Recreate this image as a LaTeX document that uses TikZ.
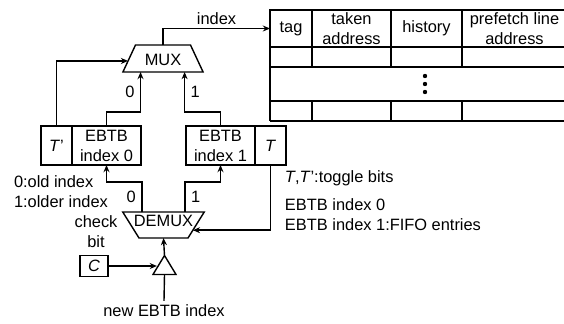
\documentclass[tikz,border=0pt]{standalone}
\usepackage{fontspec}
\setmainfont{Liberation Sans}
\usetikzlibrary{positioning, shapes.geometric, arrows.meta}

\begin{document}
\begin{tikzpicture}[
    x=0.5pt, y=-0.5pt,
    every node/.style={font=\fontsize{8.2}{10}\selectfont, align=center, inner sep=0pt, outer sep=0pt},
    box/.style={rectangle, draw, line width=0.7pt, minimum height=19.5pt},
    head/.style={rectangle, draw, line width=0.7pt, minimum height=18.5pt},
    sel/.style={trapezium, draw, line width=0.7pt},
    grid/.style={line width=0.7pt},
    link/.style={-{Stealth[length=3.6pt, width=3pt]}, line width=0.7pt},
]
\useasboundingbox (0,0) rectangle (564,323);

% Table header
\node[head, minimum width=21pt] (tag) at (291,28.5) {tag};
\node[head, minimum width=39.5pt] (taken) at (351.5,28.5) {taken\\address};
\node[head, minimum width=35.5pt] (history) at (426.5,28.5) {history};
\node[head, minimum width=52.5pt] (prefetch) at (514.5,28.5) {prefetch line\\address};

% Table rows
\draw[grid] (270,47) -- (270,121);
\foreach \y in {67,101,121}
  \draw[grid] (270,\y) -- (570,\y);
\foreach \x in {312,391,462} {
  \draw[grid] (\x,47) -- (\x,67);
  \draw[grid] (\x,101) -- (\x,121);
}
\foreach \y in {76,84,92}
  \fill (425,\y) circle (1.1pt);

% Multiplexers
\node[sel, trapezium left angle=65, trapezium right angle=65,
  text width=27.5pt, text height=10.45pt, text depth=3.05pt] (mux) at (163,58.5) {MUX};
\node[sel, shape border rotate=180, trapezium left angle=58, trapezium right angle=58,
  text width=24.5pt, text height=7.45pt, text depth=5.55pt] (demux) at (163.5,225) {\makebox[0pt]{DEMUX}};

% Index registers and toggle bits
\node[box, minimum width=15.5pt] (tpbit) at (56.5,145.5) {\textit{T}'};
\node[box, minimum width=34.5pt] (ebtb0) at (106.5,145.5) {EBTB\\index 0};
\node[box, minimum width=34.5pt] (ebtb1) at (220.5,145.5) {EBTB\\index 1};
\node[box, minimum width=15.5pt] (tbit) at (270.5,145.5) {\textit{T}};

% Check bit and buffer
\node[box, minimum width=14pt, minimum height=10.5pt] (cbit) at (94,266) {\textit{C}};
\node[draw, line width=0.7pt, isosceles triangle, shape border rotate=90,
  isosceles triangle stretches, minimum width=11.5pt, minimum height=9.5pt] (buf) at (164.5,268) {};

% Notes
\node (checkbit) at (96,232) {check\\bit};
\node[anchor=west, align=left] (idxnote) at (14,192) {0:old index\\1:older index};
\node[anchor=west, align=left] (togglenote) at (285,178) {\textit{T},\textit{T}':toggle bits};
\node[anchor=west, align=left] (fifonote) at (285,215) {EBTB index 0\\EBTB index 1:FIFO entries};
\node[inner sep=2pt] (newidx) at (164,311) {new EBTB index};

% Connections
\draw[link] (mux.north) |- (tag.west) node[pos=0.75, above=2pt] (idxlbl) {index};
\draw[link] (tpbit.north) |- (mux.184);
\draw[link] (ebtb0.north) -- ++(0,-14) -| (mux.211.5) node[pos=0.75, left=3pt] (in0) {0};
\draw[link] (ebtb1.north) -- ++(0,-14) -| (mux.328.5) node[pos=0.75, right=3pt] (in1) {1};
\draw[link] (demux.149) -- node[left=3pt] (out0) {0} ++(0,-30) -| (ebtb0.south);
\draw[link] (demux.31) -- node[right=3pt] (out1) {1} ++(0,-30) -| (ebtb1.south);
\draw[link] (tbit.south) |- (demux.-10);
\draw[link] (buf.90) -- (demux.270);
\draw[link] (cbit.east) -- (cbit.east -| buf.180);
\draw[grid] (newidx.north) -- (buf.270);
\end{tikzpicture}
\end{document}
